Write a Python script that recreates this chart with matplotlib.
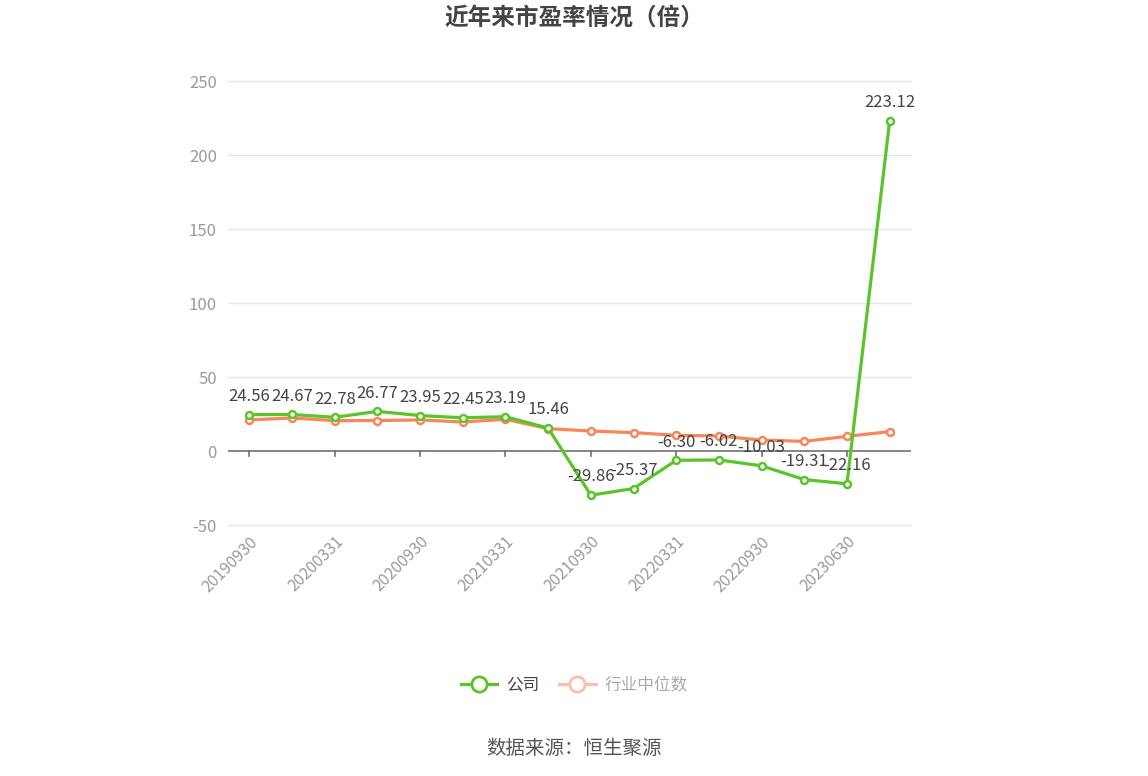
import matplotlib
matplotlib.use("Agg")
import matplotlib.pyplot as plt
from matplotlib.lines import Line2D

plt.rcParams["font.family"] = ["Noto Sans CJK SC", "DejaVu Sans"]

# dados
dates = [
    "20190930", "20191231", "20200331", "20200630", "20200930", "20201231",
    "20210331", "20210630", "20210930", "20211231", "20220331", "20220630",
    "20220930", "20221231", "20230630", "20230930",
]
company = [24.56, 24.67, 22.78, 26.77, 23.95, 22.45, 23.19, 15.46,
           -29.86, -25.37, -6.30, -6.02, -10.03, -19.31, -22.16, 223.12]
industry = [21.0, 22.3, 20.5, 20.6, 21.0, 19.6, 21.4, 15.1,
            13.5, 12.4, 10.6, 10.1, 7.4, 6.5, 9.9, 13.1]
yticks = [-50, 0, 50, 100, 150, 200, 250]

GREEN = "#5ac42a"
ORANGE = "#f7875a"
GREY = "#9a9a9a"

W, H = 1148, 776
fig = plt.figure(figsize=(W / 100, H / 100), dpi=100)
ax = fig.add_axes([228 / W, 1 - 525 / H, (911 - 228) / W, (525 - 81) / H])

x = list(range(len(dates)))
ax.plot(x, industry, color=ORANGE, lw=2.3, marker="o", ms=5, mfc="white",
        mec=ORANGE, mew=1.8, zorder=3)
ax.plot(x, company, color=GREEN, lw=2.3, marker="o", ms=5, mfc="white",
        mec=GREEN, mew=1.8, zorder=4)

for xi, v in zip(x, company):
    ax.annotate(f"{v:.2f}", (xi, v), xytext=(0, 7), textcoords="offset points",
                ha="center", va="bottom", fontsize=12, color="#444444", zorder=5)

ax.set_xlim(-0.5, len(dates) - 0.5)
ax.set_ylim(-50, 250)
ax.set_yticks(yticks)
ax.set_yticklabels([str(t) for t in yticks], color=GREY, fontsize=12)
# grade desenhada à mão para não cortar as linhas das bordas
for t in yticks:
    if t != 0:
        ax.axhline(t, color="#e3e6ef", lw=1, zorder=1, clip_on=False)
ax.axhline(0, color="#6e7079", lw=1.2, zorder=2)
for s in ax.spines.values():
    s.set_visible(False)
ax.tick_params(axis="y", length=0, pad=8)

ax.set_xticks(x[::2])
ax.set_xticklabels(dates[::2], rotation=45, ha="right", rotation_mode="anchor",
                   color=GREY, fontsize=11.5)
ax.tick_params(axis="x", length=0, pad=6)
# marcas do eixo x na linha do zero
for xi in x[::2]:
    ax.plot([xi, xi], [0, -3.5], color="#6e7079", lw=1.2, zorder=2, clip_on=False)

fig.text(0.5, 1 - 18 / H, "近年来市盈率情况（倍）", ha="center", va="center",
         fontsize=17, fontweight="bold", color="#444444")

handles = [
    Line2D([], [], color=GREEN, lw=2.3, marker="o", ms=11, mfc="white", mec=GREEN, mew=2),
    Line2D([], [], color="#fbbfa8", lw=2.3, marker="o", ms=11, mfc="white", mec="#fbbfa8", mew=2),
]
leg = fig.legend(handles, ["公司", "行业中位数"], loc="center", ncol=2,
                 bbox_to_anchor=(0.5, 1 - 685 / H), frameon=False, fontsize=12,
                 handlelength=2.2, columnspacing=1.2, handletextpad=0.5)
leg.get_texts()[0].set_color("#444444")
leg.get_texts()[1].set_color("#aaaaaa")

fig.text(0.5, 1 - 748 / H, "数据来源：恒生聚源", ha="center", va="center",
         fontsize=14, color="#555555")

fig.savefig("out.png", dpi=100)
